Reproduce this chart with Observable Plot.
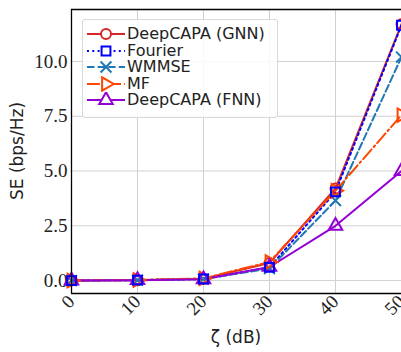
<!DOCTYPE html>
<html><head><meta charset="utf-8">
<script src="https://cdn.jsdelivr.net/npm/d3@7"></script>
<script src="https://cdn.jsdelivr.net/npm/@observablehq/plot@0.6"></script>
<style>
body{margin:0;background:#fff;}
#wrap{position:relative;width:401px;height:352px;overflow:hidden;}
#legend{position:absolute;left:82px;top:19px;width:194px;height:97px;border:1px solid #d8d8d8;border-radius:3px;background:rgba(255,255,255,0.85);font-family:"DejaVu Sans",sans-serif;font-size:16px;color:#222;}
.row{position:absolute;left:4px;height:16px;display:flex;align-items:center;white-space:nowrap;}
.row svg{display:block;}
.row span{margin-left:2px;line-height:16px;}
</style></head>
<body><div id="wrap"><div id="legend"></div></div>
<script>
const zeta = [0, 10, 20, 30, 40, 50];
const gnn = [0, 0.02, 0.08, 0.80, 4.2, 11.7];
const fourier = [0, 0.02, 0.07, 0.60, 4.05, 11.65];
const wmmse = [0, 0.02, 0.07, 0.55, 3.65, 10.2];
const mf = [0, 0.03, 0.10, 0.85, 4.1, 7.55];
const fnn = [0, 0.02, 0.06, 0.62, 2.5, 5.0];
const names = ["DeepCAPA (GNN)", "Fourier", "WMMSE", "MF", "DeepCAPA (FNN)"];
const yTicks = [0, 2.5, 5, 7.5, 10];
const xTicks = [0, 10, 20, 30, 40, 50];
const xDomain = [0, 50];
const yDomain = [-0.59, 12.37];

const triRight = {draw(ctx, size){const y=-Math.sqrt(size/(Math.sqrt(3)*3)); ctx.moveTo(-2*y,0); ctx.lineTo(y,-Math.sqrt(3)*y); ctx.lineTo(y,Math.sqrt(3)*y); ctx.closePath();}};
const series = [
  {name:names[0], vals:gnn, color:"#d62728", dash:null, symbol:"circle"},
  {name:names[1], vals:fourier, color:"#0000ff", dash:"2,3.3", symbol:"square"},
  {name:names[2], vals:wmmse, color:"#1f77b4", dash:"7.4,3.2", symbol:"times"},
  {name:names[3], vals:mf, color:"#ff4500", dash:"12.8,3.2,2,3.2", symbol:triRight},
  {name:names[4], vals:fnn, color:"#9400d3", dash:null, symbol:"triangle"}
];
const R = 5;
const SERIF = "Liberation Serif";
const marks = [
  Plot.gridX(xTicks,{stroke:"#d0d0d0",strokeOpacity:1}),
  Plot.gridY(yTicks,{stroke:"#d0d0d0",strokeOpacity:1}),
  Plot.axisX(xTicks,{tickSize:0,tickRotate:-45,tickPadding:5,label:null,fontSize:19,fontFamily:SERIF}),
  Plot.axisY(yTicks,{tickSize:0,tickPadding:4,tickFormat:d3.format(".1f"),label:null,fontSize:19,fontFamily:SERIF})
];
const dataOf = s => zeta.map((z,i)=>({z, v:s.vals[i]}));
for(const s of series){
  marks.push(Plot.line(dataOf(s),{x:"z",y:"v",stroke:s.color,strokeWidth:2,strokeDasharray:s.dash}));
}
for(const idx of [0,2,3,4,1]){
  const s=series[idx];
  marks.push(Plot.dot(dataOf(s),{x:"z",y:"v",stroke:s.color,strokeWidth:2,fill:"none",symbol:s.symbol,r:R}));
}
marks.push(Plot.ruleY(yDomain,{stroke:"black",strokeWidth:1.3}));
marks.push(Plot.ruleX([xDomain[0]],{stroke:"black",strokeWidth:1.3}));
const chart = Plot.plot({
  width:401,height:352,marginLeft:71,marginRight:0,marginTop:9,marginBottom:59,
  x:{domain:xDomain},
  y:{domain:yDomain},
  style:{background:"white",color:"#222"},
  marks
});
chart.style.position="absolute";chart.style.left="0";chart.style.top="0";
const wrap=document.getElementById("wrap");
wrap.insertBefore(chart, wrap.firstChild);
const svg=d3.select(chart);
svg.selectAll('g[aria-label$="tick label"] text').attr("font-family",SERIF).attr("font-size",19);
svg.append("text").attr("transform","translate(18,151) rotate(-90)").attr("text-anchor","middle").attr("dominant-baseline","middle")
  .attr("font-family","DejaVu Sans").attr("font-size",17).attr("fill","#222").text("SE (bps/Hz)");
svg.append("text").attr("x",236).attr("y",338).attr("text-anchor","middle").attr("dominant-baseline","middle")
  .attr("font-family","DejaVu Sans").attr("font-size",17).attr("fill","#222").text("ζ (dB)");

const leg=document.getElementById("legend");
const symMap={circle:d3.symbolCircle,square:d3.symbolSquare,times:d3.symbolTimes,triangle:d3.symbolTriangle};
series.forEach((s,i)=>{
  const row=document.createElement("div");row.className="row";row.style.top=(6+i*16.6)+"px";
  const ns="http://www.w3.org/2000/svg";
  const sv=document.createElementNS(ns,"svg");sv.setAttribute("width","38");sv.setAttribute("height","16");
  const ln=document.createElementNS(ns,"line");
  ln.setAttribute("x1","0");ln.setAttribute("x2","38");ln.setAttribute("y1","8");ln.setAttribute("y2","8");
  ln.setAttribute("stroke",s.color);ln.setAttribute("stroke-width","2");if(s.dash)ln.setAttribute("stroke-dasharray",s.dash);
  sv.appendChild(ln);
  const t=typeof s.symbol==="string"?symMap[s.symbol]:s.symbol;
  const p=document.createElementNS(ns,"path");
  p.setAttribute("d",d3.symbol(t,Math.PI*R*R)());p.setAttribute("transform","translate(19,8)");
  p.setAttribute("fill","white");p.setAttribute("stroke",s.color);p.setAttribute("stroke-width","2");
  sv.appendChild(p);
  row.appendChild(sv);
  const sp=document.createElement("span");sp.textContent=s.name;row.appendChild(sp);
  leg.appendChild(row);
});
</script></body></html>
